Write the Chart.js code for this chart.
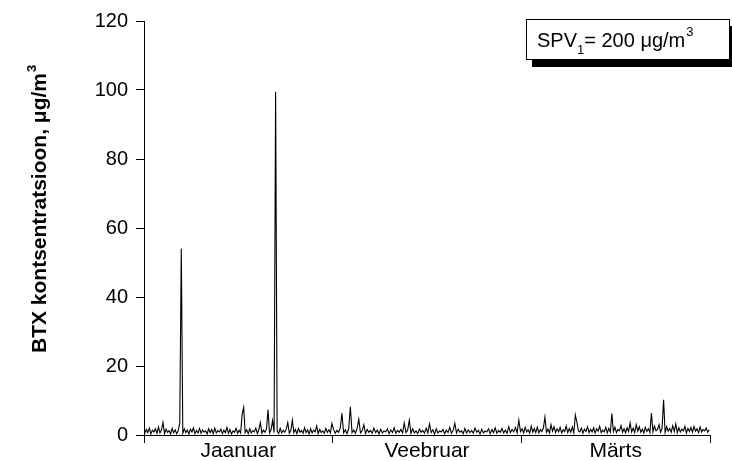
<!DOCTYPE html>
<html>
<head>
<meta charset="utf-8">
<script src="https://cdn.jsdelivr.net/npm/chart.js@4"></script>
<style>
  body { margin: 0; background: #fff; }
</style>
</head>
<body>
<canvas id="btxChart" width="732" height="461"></canvas>
<script>
// month names for the x axis
const monthLabels = ['Jaanuar', 'Veebruar', 'Märts'];
const yTicks = [0, 20, 40, 60, 80, 100, 120];

// BTX values, ~4 readings per day
const janValues = [
  0.4, 1.6, 0.7, 2.0, 0.3, 1.4, 0.9, 1.8, 0.5, 2.3,
  0.6, 1.5, 3.6, 0.4, 1.7, 0.8, 1.3, 0.3, 1.9, 0.6,
  1.5, 0.4, 1.2, 3.5, 54.0, 0.5, 1.8, 0.7, 1.4, 0.3,
  1.7, 0.9, 2.1, 0.4, 1.3, 0.6, 1.9, 0.5, 1.5, 0.8,
  1.2, 0.3, 1.8, 0.7, 1.6, 0.4, 2.0, 0.6, 1.3, 0.9,
  1.7, 0.4, 1.4, 0.7, 2.2, 0.5, 1.6, 0.3, 1.2, 0.8,
  1.9, 0.5, 1.4, 0.6, 6.0, 8.0, 0.7, 1.5, 0.4, 1.8,
  0.6, 1.3, 0.9, 2.0, 0.4, 1.6, 3.6, 0.5, 1.4, 0.8,
  1.7, 7.4, 0.6, 1.5, 4.2, 0.7, 99.5, 1.2, 0.4, 1.9,
  0.6, 1.4, 0.8, 1.7, 3.6, 0.5, 1.3, 4.3, 0.7, 1.6,
  0.4, 1.9, 0.8, 1.3, 0.5, 2.1, 0.7, 1.5, 0.3, 1.8,
  0.6, 1.4, 0.9, 2.6, 0.4, 1.6, 0.7, 1.2, 0.5, 1.9,
  0.8, 1.5, 0.6, 3.3
];
const febValues = [
  1.7, 0.5, 1.3, 0.8, 2.0, 6.3, 0.6, 1.5, 0.4, 1.8,
  8.2, 0.7, 1.4, 0.5, 1.9, 4.6, 0.6, 1.2, 3.0, 0.4,
  1.6, 0.8, 1.3, 0.5, 2.0, 0.7, 1.4, 0.3, 1.7, 0.6,
  1.2, 0.9, 1.8, 0.4, 1.5, 0.7, 2.1, 0.5, 1.3, 0.8,
  1.6, 0.6, 3.5, 0.7, 1.4, 4.3, 0.5, 1.8, 0.6, 1.2,
  0.4, 1.7, 0.8, 1.3, 0.5, 2.0, 0.6, 3.2, 0.7, 1.5,
  0.3, 1.8, 0.6, 1.2, 0.9, 1.6, 0.4, 1.4, 0.7, 2.2,
  0.5, 1.3, 3.4, 0.6, 1.7, 0.8, 1.2, 0.4, 1.9, 0.6,
  1.5, 0.7, 1.3, 0.5, 2.0, 0.8, 1.4, 0.3, 1.7, 0.6,
  1.2, 0.9, 1.8, 0.4, 1.6, 0.7, 2.1, 0.5, 1.3, 0.8,
  1.9, 0.6, 1.4, 0.5, 2.4, 0.7, 1.6, 0.9, 2.2, 0.6,
  4.3, 1.0
];
const marValues = [
  1.8, 0.6, 2.2, 0.9, 1.5, 0.5, 2.6, 0.8, 1.9, 0.7,
  2.3, 0.6, 1.6, 1.0, 2.0, 5.2, 0.8, 1.7, 0.6, 3.0,
  1.1, 2.4, 0.7, 1.8, 0.9, 2.2, 0.6, 1.5, 1.0, 2.6,
  0.7, 1.9, 0.8, 2.3, 0.6, 5.8, 3.7, 1.2, 0.9, 2.0,
  0.5, 1.7, 1.0, 2.4, 0.7, 1.6, 0.9, 2.1, 0.6, 1.8,
  1.1, 2.5, 0.7, 1.4, 0.9, 2.2, 0.6, 1.9, 0.8, 6.2,
  1.0, 2.3, 0.7, 1.6, 1.2, 2.7, 0.8, 1.8, 0.6, 2.1,
  1.0, 3.5, 0.9, 2.0, 0.7, 3.0, 1.1, 2.4, 0.8, 1.7,
  0.6, 2.2, 1.0, 1.8, 0.7, 6.4, 0.9, 2.6, 1.2, 1.6,
  3.0, 0.8, 2.0, 10.2, 0.7, 2.4, 1.1, 1.9, 0.8, 2.7,
  1.0, 3.2, 0.7, 2.1, 0.9, 1.7, 1.2, 2.5, 0.6, 1.9,
  1.0, 2.2, 0.8, 2.5, 1.1, 1.8, 0.7, 2.3, 0.9, 1.6,
  1.2, 2.0, 0.8, 1.5
];

const yTitle = 'BTX kontsentratsioon, μg/m';
const limitText = ['SPV', '1', '= 200 μg/m', '3']; // main, sub, main, sup

const FONT = "'Liberation Sans', Arial, Helvetica, sans-serif";
Chart.defaults.font.family = FONT;
Chart.defaults.color = '#000';

// spread each month's readings evenly over its own segment (0-1, 1-2, 2-3)
const points = [];
[janValues, febValues, marValues].forEach((vals, m) => {
  vals.forEach((v, j) => points.push({ x: m + (j + 0.5) / vals.length, y: v }));
});

// y title with superscript, and the boxed limit label top right
const extrasPlugin = {
  id: 'extras',
  afterDraw(chart) {
    const ctx = chart.ctx;
    ctx.save();

    // y axis title
    ctx.translate(46, 353);
    ctx.rotate(-Math.PI / 2);
    ctx.fillStyle = '#000';
    ctx.textBaseline = 'alphabetic';
    ctx.font = 'bold 21px ' + FONT;
    ctx.fillText(yTitle, 0, 0);
    let w = ctx.measureText(yTitle).width;
    ctx.font = 'bold 13px ' + FONT;
    ctx.fillText('3', w + 1, -10);
    ctx.restore();

    // limit value box
    ctx.save();
    const bx = 526, by = 19, bw = 204, bh = 41;
    ctx.fillStyle = '#000';
    ctx.fillRect(bx + 6, by + 7, bw, bh);
    ctx.fillStyle = '#fff';
    ctx.fillRect(bx, by, bw, bh);
    ctx.strokeStyle = '#000';
    ctx.lineWidth = 1;
    ctx.strokeRect(bx + 0.5, by + 0.5, bw - 1, bh - 1);

    ctx.fillStyle = '#000';
    ctx.textBaseline = 'alphabetic';
    let x = 537;
    const base = 47;
    ctx.font = '20px ' + FONT;
    ctx.fillText(limitText[0], x, base);
    x += ctx.measureText(limitText[0]).width;
    ctx.font = '13px ' + FONT;
    ctx.fillText(limitText[1], x, base + 7);
    x += ctx.measureText(limitText[1]).width;
    ctx.font = '20px ' + FONT;
    ctx.fillText(limitText[2], x, base);
    x += ctx.measureText(limitText[2]).width;
    ctx.font = '13px ' + FONT;
    ctx.fillText(limitText[3], x + 1, base - 11);
    ctx.restore();
  }
};

const ctx = document.getElementById('btxChart').getContext('2d');
new Chart(ctx, {
  type: 'line',
  data: {
    datasets: [{
      data: points,
      borderColor: '#000',
      borderWidth: 1.1,
      pointRadius: 0,
      tension: 0,
      fill: false
    }]
  },
  options: {
    responsive: false,
    animation: false,
    layout: { padding: { left: 0, right: 22, top: 21, bottom: 0 } },
    plugins: {
      legend: { display: false },
      tooltip: { enabled: false }
    },
    scales: {
      x: {
        type: 'linear',
        min: 0,
        max: 3,
        afterBuildTicks: scale => {
          scale.ticks = [0, 0.5, 1, 1.5, 2, 2.5, 3].map(v => ({ value: v }));
        },
        afterFit: scale => { scale.height = 26; },
        ticks: {
          autoSkip: false,
          maxRotation: 0,
          padding: -4,
          font: { size: 21 },
          color: '#000',
          callback: v => (Number.isInteger(v) ? '' : monthLabels[Math.floor(v)])
        },
        grid: {
          drawOnChartArea: false,
          drawTicks: true,
          tickLength: 8,
          color: c => (c.tick && Number.isInteger(c.tick.value) ? '#000' : 'rgba(0,0,0,0)')
        },
        border: { color: '#000', width: 1 }
      },
      y: {
        min: 0,
        max: 120,
        afterBuildTicks: scale => {
          scale.ticks = yTicks.map(v => ({ value: v }));
        },
        afterFit: scale => { scale.width = 144; },
        ticks: {
          padding: 8,
          font: { size: 20 },
          color: '#000'
        },
        grid: {
          drawOnChartArea: false,
          drawTicks: true,
          tickLength: 8,
          color: '#000'
        },
        border: { color: '#000', width: 1 }
      }
    }
  },
  plugins: [extrasPlugin]
});
</script>
</body>
</html>
